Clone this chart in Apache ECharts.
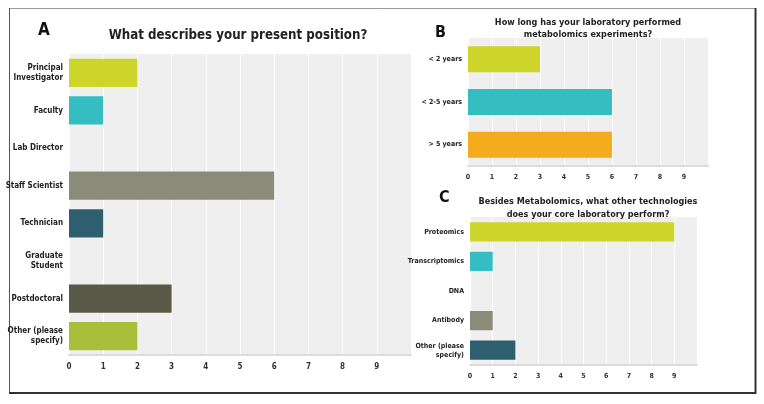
<!DOCTYPE html>
<html>
<head>
<meta charset="utf-8">
<script src="https://cdn.jsdelivr.net/npm/echarts@6/dist/echarts.min.js"></script>
<style>html,body{margin:0;padding:0;background:#fff}#c{width:764px;height:404px}</style>
</head>
<body>
<div id="c"></div>
<script>
// Panel A
const catA = ['Principal\nInvestigator', 'Faculty', 'Lab Director', 'Staff Scientist', 'Technician', 'Graduate\nStudent', 'Postdoctoral', 'Other (please\nspecify)'];
const valA = [2, 1, 0, 6, 1, 0, 3, 2];
// Panel B
const catB = ['< 2 years', '< 2-5 years', '> 5 years'];
const valB = [3, 6, 6];
// Panel C
const catC = ['Proteomics', 'Transcriptomics', 'DNA', 'Antibody', 'Other (please\nspecify)'];
const valC = [9, 1, 0, 1, 2];
const ticks = [0, 1, 2, 3, 4, 5, 6, 7, 8, 9];

const colA = ['#cdd52a', '#35bec1', '#cccccc', '#8a8b7a', '#2e5f6e', '#cccccc', '#5a5a48', '#a9bf3a'];
const colB = ['#cdd52a', '#35bec1', '#f5ab1e'];
const colC = ['#cdd52a', '#35bec1', '#cccccc', '#8a8b7a', '#2e5f6e'];

const FONT = '"DejaVu Sans Condensed", "DejaVu Sans", sans-serif';
const NARROW = '"Liberation Sans Narrow", "DejaVu Sans Condensed", sans-serif';
const chart = echarts.init(document.getElementById('c'));

function xAx(gi, size) {
  return {
    type: 'value', gridIndex: gi, min: 0, max: 10, interval: 1,
    axisLine: { show: true, lineStyle: { color: '#dcdcdc', width: 2 } },
    axisTick: { show: false },
    splitLine: { show: true, lineStyle: { color: '#ffffff', width: 1 } },
    axisLabel: {
      fontFamily: FONT, fontSize: size, fontWeight: 'bold', color: '#333',
      margin: 8,
      formatter: v => (ticks.indexOf(v) >= 0 ? String(v) : '')
    }
  };
}
function yAx(gi, cats, size, lh) {
  return {
    type: 'category', gridIndex: gi, data: cats, inverse: true,
    axisLine: { show: false }, axisTick: { show: false },
    axisLabel: { fontFamily: NARROW, fontSize: size, fontWeight: 'bold', color: '#222', margin: 6, lineHeight: lh }
  };
}
function bar(gi, vals, cols, gap) {
  return {
    type: 'bar', xAxisIndex: gi, yAxisIndex: gi, data: vals, barCategoryGap: gap,
    itemStyle: { color: p => cols[p.dataIndex] },
    silent: true, animation: false
  };
}
const gridBase = { show: true, backgroundColor: '#efefef', borderWidth: 0, containLabel: false, outerBoundsMode: 'none' };

chart.setOption({
  animation: false,
  title: [
    { text: 'A', left: 33, top: 17, textStyle: { fontFamily: FONT, fontSize: 17, fontWeight: 'bold', color: '#111' } },
    { text: 'What describes your present position?', left: 233, top: 24, textAlign: 'center',
      textStyle: { fontFamily: FONT, fontSize: 13.2, fontWeight: 'bold', color: '#222' } },
    { text: 'B', left: 430, top: 20, textStyle: { fontFamily: FONT, fontSize: 16, fontWeight: 'bold', color: '#111' } },
    { text: 'How long has your laboratory performed\nmetabolomics experiments?', left: 583, top: 12, textAlign: 'center',
      textStyle: { fontFamily: FONT, fontSize: 9, fontWeight: 'bold', color: '#222', lineHeight: 12 } },
    { text: 'C', left: 434, top: 185, textStyle: { fontFamily: FONT, fontSize: 16, fontWeight: 'bold', color: '#111' } },
    { text: 'Besides Metabolomics, what other technologies\ndoes your core laboratory perform?', left: 583, top: 190, textAlign: 'center',
      textStyle: { fontFamily: FONT, fontSize: 9, fontWeight: 'bold', color: '#222', lineHeight: 13 } }
  ],
  grid: [
    Object.assign({ left: 69, right: 353, top: 54, bottom: 49 }, gridBase),
    Object.assign({ left: 468, right: 56, top: 38, bottom: 238 }, gridBase),
    Object.assign({ left: 470, right: 67, top: 217, bottom: 39 }, gridBase)
  ],
  xAxis: [xAx(0, 8), xAx(1, 7), xAx(2, 7)],
  yAxis: [yAx(0, catA, 8, 10), yAx(1, catB, 7, 9), yAx(2, catC, 7, 9)],
  series: [bar(0, valA, colA, '25%'), bar(1, valB, colB, '39%'), bar(2, valC, colC, '35%')],
  graphic: [
    { type: 'line', shape: { x1: 9, y1: 8.5, x2: 756, y2: 8.5 }, style: { stroke: '#999', lineWidth: 1 } },
    { type: 'line', shape: { x1: 9.5, y1: 8, x2: 9.5, y2: 393 }, style: { stroke: '#555', lineWidth: 1 } },
    { type: 'line', shape: { x1: 9, y1: 393, x2: 756, y2: 393 }, style: { stroke: '#333', lineWidth: 2 } },
    { type: 'line', shape: { x1: 755.5, y1: 8, x2: 755.5, y2: 394 }, style: { stroke: '#333', lineWidth: 2 } }
  ]
});
</script>
</body>
</html>
